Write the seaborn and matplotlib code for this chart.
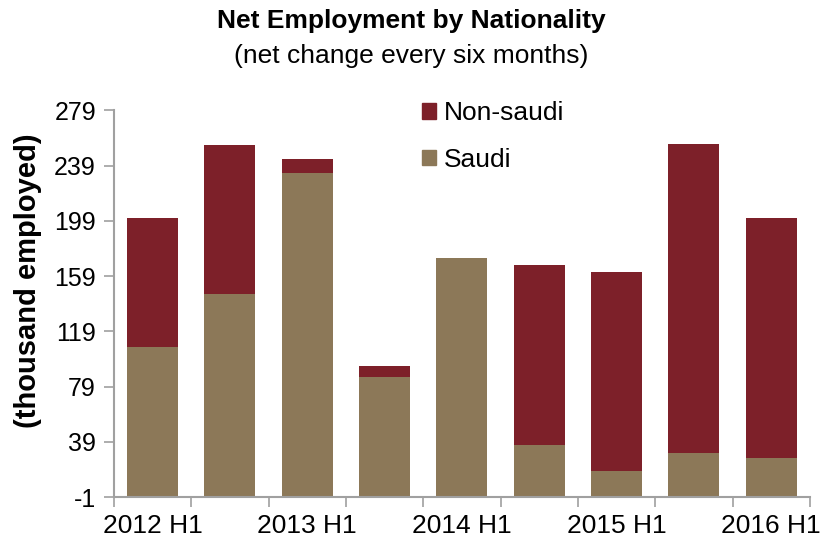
import matplotlib
matplotlib.use("Agg")
import matplotlib.pyplot as plt
from matplotlib.patches import Patch
from matplotlib.ticker import FixedLocator
import pandas as pd
import seaborn as sns

# values (thousand employed, net change per half-year)
periods = ['2012 H1', '2012 H2', '2013 H1', '2013 H2', '2014 H1',
           '2014 H2', '2015 H1', '2015 H2', '2016 H1']
saudi = [108, 146, 234, 86, 172, 37, 18, 31, 27]
non_saudi = [93, 108, 10, 8, 0, 130, 144, 224, 174]
y_ticks = [-1, 39, 79, 119, 159, 199, 239, 279]

saudi_color = '#8C7858'
non_saudi_color = '#7D2029'
axis_grey = '#A0A0A0'

df = pd.DataFrame({'period': periods, 'Saudi': saudi, 'Non-saudi': non_saudi})
df['total'] = df['Saudi'] + df['Non-saudi']

sns.set_theme(style='white')
plt.rcParams['font.family'] = ['Liberation Sans', 'DejaVu Sans']
plt.rcParams['text.color'] = 'black'
plt.rcParams['axes.labelcolor'] = 'black'
plt.rcParams['xtick.color'] = 'black'
plt.rcParams['ytick.color'] = 'black'

fig = plt.figure(figsize=(8.23, 5.4), dpi=100)
ax = fig.add_axes([0.1385, 0.0796, 0.8455, 0.7158])

# stacked look: total in the non-saudi colour, saudi drawn over it
sns.barplot(data=df, x='period', y='total', color=non_saudi_color, width=0.66,
            saturation=1, linewidth=0, ax=ax)
sns.barplot(data=df, x='period', y='Saudi', color=saudi_color, width=0.66,
            saturation=1, linewidth=0, ax=ax)

ax.set_ylim(-1, 279)
ax.set_xlim(-0.5, len(periods) - 0.5)
ax.set_yticks(y_ticks)
ax.set_yticklabels([str(t) for t in y_ticks], fontsize=18)

# only H1 labels, tick marks sit between the categories
ax.set_xticks(range(0, len(periods), 2))
ax.set_xticklabels(periods[::2], fontsize=19)
ax.xaxis.set_minor_locator(FixedLocator([i - 0.5 for i in range(len(periods) + 1)]))
ax.tick_params(axis='x', which='major', length=0, pad=12, labelcolor='black')
ax.tick_params(axis='x', which='minor', length=7, width=1.2, color=axis_grey, direction='out')
ax.tick_params(axis='y', which='major', length=7, width=1.2, color=axis_grey,
               direction='out', pad=6, labelcolor='black')
ax.tick_params(bottom=True, left=True, which='both')

for side in ['top', 'right']:
    ax.spines[side].set_visible(False)
for side in ['left', 'bottom']:
    ax.spines[side].set_color(axis_grey)
    ax.spines[side].set_linewidth(1.5)

ax.set_xlabel('')
ax.set_ylabel('(thousand employed)', fontsize=21, fontweight='bold', color='black')
ax.yaxis.set_label_coords(-0.104, 0.56)

handles = [Patch(color=non_saudi_color, label='Non-saudi'),
           Patch(color=saudi_color, label='Saudi')]
ax.legend(handles=handles, loc='upper left', bbox_to_anchor=(0.408, 1.085),
          frameon=False, fontsize=19, handlelength=0.55, handleheight=0.55,
          handletextpad=0.3, labelspacing=0.85, labelcolor='black')

fig.text(0.5, 1 - 21 / 540, 'Net Employment by Nationality', ha='center', va='center',
         fontsize=19, fontweight='bold', color='black')
fig.text(0.5, 1 - 56 / 540, '(net change every six months)', ha='center', va='center',
         fontsize=19, color='black')

fig.savefig('out.png', dpi=100)
